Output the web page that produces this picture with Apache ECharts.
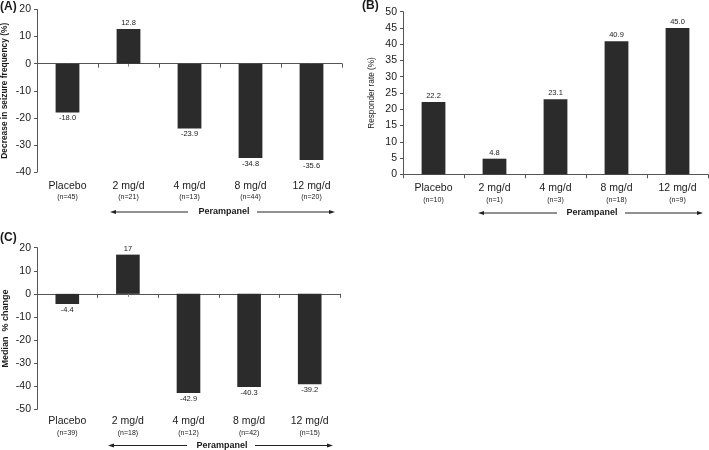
<!DOCTYPE html>
<html><head><meta charset="utf-8">
<script src="https://cdn.jsdelivr.net/npm/echarts@6/dist/echarts.min.js"></script>
<style>html,body{margin:0;padding:0;background:#fff}#c{width:709px;height:450px}</style>
</head><body><div id="c"></div>
<script>
const categories = ['Placebo', '2 mg/d', '4 mg/d', '8 mg/d', '12 mg/d'];
const nA = [45, 21, 13, 44, 20];
const nB = [10, 1, 3, 18, 9];
const nC = [39, 18, 12, 42, 15];
const valuesA = [-18.0, 12.8, -23.9, -34.8, -35.6];
const valuesB = [22.2, 4.8, 23.1, 40.9, 45.0];
const valuesC = [-4.4, 17, -42.9, -40.3, -39.2];
const yTitleA = 'Decrease in seizure frequency (%)';
const yTitleB = 'Responder rate (%)';
const yTitleC = 'Median  % change';

const FONT = "'Liberation Sans Narrow', 'Liberation Sans', Arial, sans-serif";
const TXT = '#1a1a1a';
const AX = '#555';
const BAR = '#2b2b2b';

const grids = [
  {left: 36, top: 9.5, width: 306, height: 162.5},
  {left: 403, top: 11.7, width: 305, height: 162.6},
  {left: 35, top: 247.7, width: 305, height: 161.6}
];
const ranges = [[-40, 20], [0, 50], [-50, 20]];

const chart = echarts.init(document.getElementById('c'), null, {renderer: 'canvas'});

function catLabel(ns) {
  return {
    show: true, interval: 0, margin: 8, color: TXT, fontFamily: FONT,
    formatter: (v, i) => `{a|${v}}\n{b|(n=${ns[i]})}`,
    rich: {
      a: {fontSize: 10.5, lineHeight: 12, color: TXT, fontFamily: FONT},
      b: {fontSize: 7, lineHeight: 11, color: TXT, fontFamily: FONT}
    }
  };
}
function zeroAxis(grid) {
  return {type: 'category', gridIndex: grid, data: categories, position: 'bottom',
    axisLine: {show: true, onZero: true, lineStyle: {color: AX, width: 1}},
    axisTick: {show: true, length: 4, lineStyle: {color: AX}},
    axisLabel: {show: false}, splitLine: {show: false}};
}
// secondary axis carrying the small ticks at category centres, shifted up to the zero line
function centerTickAxis(grid) {
  const g = grids[grid], r = ranges[grid];
  const zeroFromBottom = g.height * (0 - r[0]) / (r[1] - r[0]);
  return {type: 'category', gridIndex: grid, data: categories, position: 'bottom',
    offset: -zeroFromBottom,
    axisLine: {show: false, onZero: false},
    axisTick: {show: true, alignWithLabel: true, length: 3, lineStyle: {color: '#888'}},
    axisLabel: {show: false}, splitLine: {show: false}};
}
function labelAxis(grid, ns, margin) {
  const l = catLabel(ns); l.margin = margin;
  return {type: 'category', gridIndex: grid, data: categories, position: 'bottom',
    axisLine: {show: false, onZero: false}, axisTick: {show: false},
    axisLabel: l, splitLine: {show: false}};
}
function yAxis(grid, interval, name, bold, nameSize, gap) {
  return {type: 'value', gridIndex: grid, min: ranges[grid][0], max: ranges[grid][1], interval,
    name, nameLocation: 'middle', nameGap: gap, nameRotate: 90,
    nameTextStyle: {fontSize: nameSize, fontWeight: bold ? 'bold' : 'normal', color: TXT, fontFamily: FONT},
    axisLine: {show: true, lineStyle: {color: AX, width: 1}},
    axisTick: {show: true, inside: false, length: 3, lineStyle: {color: AX}},
    axisLabel: {fontSize: 10.5, color: TXT, margin: 6, fontFamily: FONT},
    splitLine: {show: false}};
}
function barData(vals, fmt) {
  return vals.map(v => ({value: v, label: {position: v < 0 ? 'bottom' : 'top', formatter: fmt(v)}}));
}
function barSeries(x, y, vals, fmt) {
  return {type: 'bar', xAxisIndex: x, yAxisIndex: y, barWidth: '39%',
    itemStyle: {color: BAR}, data: barData(vals, fmt),
    label: {show: true, distance: 2, fontSize: 7.5, color: TXT, fontFamily: FONT},
    silent: true, animation: false};
}
const f1 = v => v.toFixed(1);
const fs = v => String(v);

function arrow(x1, x2, y, text, cx) {
  return [
    {type: 'line', shape: {x1: x1 + 4, y1: y, x2: x2, y2: y}, style: {stroke: '#222', lineWidth: 1}},
    {type: 'polygon', shape: {points: [[x1, y], [x1 + 6, y - 2], [x1 + 6, y + 2]]}, style: {fill: '#222'}},
    {type: 'text', x: cx, y: y, style: {text: text, font: 'bold 9px ' + FONT, fill: TXT, align: 'center', verticalAlign: 'middle'}}
  ];
}
function arrowR(x1, x2, y) {
  return [
    {type: 'line', shape: {x1: x1, y1: y, x2: x2 - 4, y2: y}, style: {stroke: '#222', lineWidth: 1}},
    {type: 'polygon', shape: {points: [[x2, y], [x2 - 6, y - 2], [x2 - 6, y + 2]]}, style: {fill: '#222'}}
  ];
}

const graphics = [].concat(
  arrow(110, 188, 212, 'Perampanel', 224), arrowR(257, 335, 212),
  arrow(478, 557, 213, 'Perampanel', 592), arrowR(625, 703, 213),
  arrow(108, 187, 445.5, 'Perampanel', 222), arrowR(255, 333, 445.5),
  [
    {type: 'text', x: 0, y: 7, style: {text: '(A)', font: 'bold 12px ' + FONT, fill: TXT, verticalAlign: 'middle'}},
    {type: 'text', x: 362, y: 6, style: {text: '(B)', font: 'bold 12px ' + FONT, fill: TXT, verticalAlign: 'middle'}},
    {type: 'text', x: 0, y: 238, style: {text: '(C)', font: 'bold 12px ' + FONT, fill: TXT, verticalAlign: 'middle'}}
  ]
);

chart.setOption({
  animation: false,
  backgroundColor: '#fff',
  textStyle: {fontFamily: FONT},
  grid: grids,
  xAxis: [
    zeroAxis(0), centerTickAxis(0), labelAxis(0, nA, 8),
    {type: 'category', gridIndex: 1, data: categories, position: 'bottom',
      axisLine: {show: true, onZero: false, lineStyle: {color: AX, width: 1}},
      axisTick: {show: true, length: 4, lineStyle: {color: AX}},
      axisLabel: catLabel(nB), splitLine: {show: false}},
    zeroAxis(2), centerTickAxis(2), labelAxis(2, nC, 6)
  ],
  yAxis: [
    yAxis(0, 10, yTitleA, true, 8.4, 28),
    yAxis(1, 5, yTitleB, false, 8.2, 27),
    yAxis(2, 10, yTitleC, true, 9, 27)
  ],
  series: [
    barSeries(0, 0, valuesA, f1),
    barSeries(3, 1, valuesB, f1),
    barSeries(4, 2, valuesC, fs)
  ],
  graphic: graphics
});
</script></body></html>
